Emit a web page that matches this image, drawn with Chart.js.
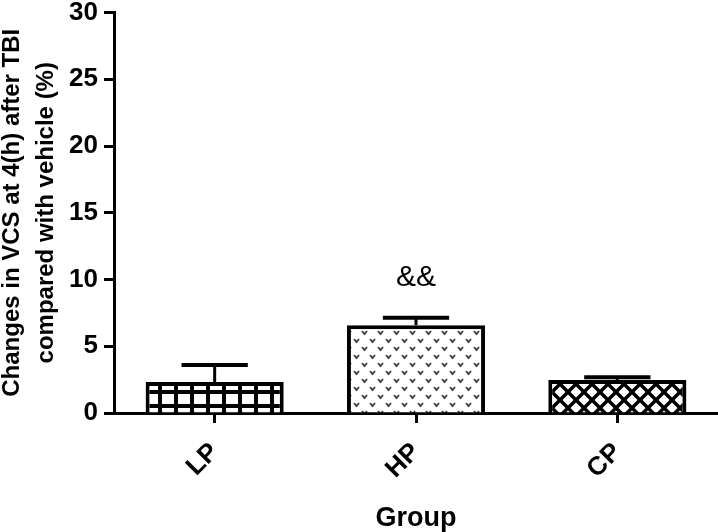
<!DOCTYPE html>
<html>
<head>
<meta charset="utf-8">
<script src="https://cdn.jsdelivr.net/npm/chart.js@4"></script>
<style>
  body { margin: 0; background: #fff; }
  #box { width: 718px; height: 532px; }
</style>
</head>
<body>
<div id="box"><canvas id="grafico"></canvas></div>
<script>
let grupos = ["LP", "HP", "CP"];
let medias = [2.32, 6.58, 2.47];
let errosSup = [1.28, 0.55, 0.2];
let marcas = ["", "&&", ""];
let yMin = 0;
let yMax = 30;
let yPasso = 5;

let fonte = "'Liberation Sans', Arial, sans-serif";

// padroes das barras
function tile(w, h, desenha) {
  let c = document.createElement("canvas");
  c.width = w;
  c.height = h;
  let g = c.getContext("2d");
  desenha(g);
  return document.createElement("canvas").getContext("2d").createPattern(c, "repeat");
}

let padraoGrade = tile(16, 14, (g) => {
  g.fillStyle = "#000";
  g.fillRect(0, 0, 16, 14);
  g.fillStyle = "#fff";
  g.fillRect(2, 2, 12, 10);
});

let padraoPontos = tile(16, 16, (g) => {
  g.fillStyle = "#fff";
  g.fillRect(0, 0, 16, 16);
  g.strokeStyle = "#3a3a3a";
  g.lineWidth = 1.8;
  [[2, 3], [10, 11]].forEach(([x, y]) => {
    g.beginPath();
    g.moveTo(x, y);
    g.lineTo(x + 2.5, y + 3);
    g.lineTo(x + 5, y);
    g.stroke();
  });
});

let padraoCruz = tile(16, 16, (g) => {
  g.fillStyle = "#fff";
  g.fillRect(0, 0, 16, 16);
  g.strokeStyle = "#000";
  g.lineWidth = 3.5;
  [-16, 0, 16].forEach((d) => {
    g.beginPath();
    g.moveTo(d - 2, -2);
    g.lineTo(d + 18, 18);
    g.moveTo(d + 18, -2);
    g.lineTo(d - 2, 18);
    g.stroke();
  });
});

let padroes = [padraoGrade, padraoPontos, padraoCruz];

// barras de erro (so a parte de cima) e marcas de significancia
let pluginErros = {
  id: "erros",
  afterDatasetsDraw(chart) {
    let ctx = chart.ctx;
    let y = chart.scales.y;
    let barras = chart.getDatasetMeta(0).data;
    ctx.save();
    ctx.strokeStyle = "#000";
    barras.forEach((barra, i) => {
      let topo = y.getPixelForValue(medias[i]);
      let yErro = y.getPixelForValue(medias[i] + errosSup[i]);
      let meia = barra.width * 0.24;
      ctx.lineWidth = 3;
      ctx.beginPath();
      ctx.moveTo(barra.x, topo);
      ctx.lineTo(barra.x, yErro);
      ctx.stroke();
      ctx.lineWidth = 4;
      ctx.beginPath();
      ctx.moveTo(barra.x - meia, yErro);
      ctx.lineTo(barra.x + meia, yErro);
      ctx.stroke();
      if (marcas[i]) {
        ctx.fillStyle = "#000";
        ctx.font = "30px " + fonte;
        ctx.textAlign = "center";
        ctx.textBaseline = "alphabetic";
        ctx.fillText(marcas[i], barra.x, yErro - 32);
      }
    });
    ctx.restore();
  },
};

new Chart(document.getElementById("grafico"), {
  type: "bar",
  data: {
    labels: grupos,
    datasets: [
      {
        data: medias,
        backgroundColor: padroes,
        borderColor: "#000",
        borderWidth: 4,
        categoryPercentage: 0.686,
        barPercentage: 1,
      },
    ],
  },
  options: {
    responsive: true,
    maintainAspectRatio: false,
    animation: false,
    layout: { padding: { top: 0, right: 0, bottom: 0, left: 0 } },
    plugins: { legend: { display: false }, tooltip: { enabled: false } },
    scales: {
      x: {
        afterFit: (s) => { s.height = 119; },
        grid: { display: true, offset: false, drawOnChartArea: false, drawTicks: true, tickLength: 10, tickWidth: 3, tickColor: "#000" },
        border: { display: true, width: 3, color: "#000" },
        ticks: {
          color: "#000",
          minRotation: 45,
          maxRotation: 45,
          padding: 14,
          font: { family: fonte, size: 26, weight: "bold" },
        },
        title: {
          display: true,
          text: "Group",
          color: "#000",
          padding: { top: 0, bottom: -3 },
          font: { family: fonte, size: 27, weight: "bold", lineHeight: 1.2 },
        },
      },
      y: {
        min: yMin,
        max: yMax,
        afterFit: (s) => { s.width = 114; },
        grid: { display: true, drawOnChartArea: false, drawTicks: true, tickLength: 10, tickWidth: 3, tickColor: "#000" },
        border: { display: true, width: 3, color: "#000" },
        ticks: {
          stepSize: yPasso,
          color: "#000",
          padding: 6,
          font: { family: fonte, size: 26, weight: "bold", lineHeight: 0.5 },
        },
        title: {
          display: true,
          text: ["Changes in VCS at 4(h) after TBI", "compared with vehicle (%)"],
          color: "#000",
          padding: { top: -5, bottom: 0 },
          font: { family: fonte, size: 24, weight: "bold", lineHeight: 1.42 },
        },
      },
    },
  },
  plugins: [pluginErros],
});
</script>
</body>
</html>
